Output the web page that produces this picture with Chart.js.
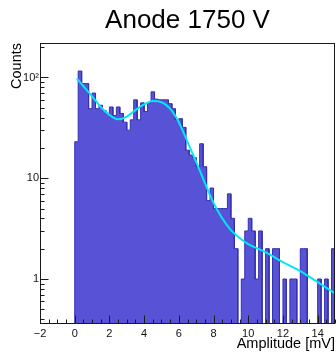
<!DOCTYPE html>
<html>
<head>
<meta charset="utf-8">
<title>Anode 1750 V</title>
<script src="https://cdn.jsdelivr.net/npm/chart.js@4/dist/chart.umd.min.js"></script>
<style>
  html, body { margin: 0; padding: 0; background: #ffffff; }
  canvas { display: block; }
</style>
</head>
<body>
<canvas id="chart" width="336" height="352"></canvas>
<script>
// Amplitude spectrum, 0.2 mV bins starting at 0 mV
const chartTitle = 'Anode 1750 V';
const xTitle = 'Amplitude [mV]';
const yTitle = 'Counts';

const binLow = 0;
const binWidth = 0.2;
const counts = [
  23, 116, 87, 87, 49, 70, 49, 53, 47, 44,
  51, 42, 51, 44, 36, 30, 38, 60, 38, 56,
  46, 56, 72, 61, 60, 60, 60, 55, 49, 38,
  39, 32, 19, 17, 16, 13, 22, 13, 6, 8,
  5, 5, 5, 5, 7, 4, 2, 0, 1, 3,
  4, 3, 1, 3, 0, 2, 0, 2, 2, 0,
  1, 0, 1, 1, 0, 2, 2, 0, 0, 0,
  1, 0, 1, 0, 2
];

// Fitted model curve
const fitX = [0.12, 0.5, 1.0, 1.5, 2.0, 2.5, 3.0, 3.5, 4.0, 4.5, 5.0, 5.5, 6.0, 6.5, 7.0, 7.5, 8.0, 8.5, 9.0, 9.5, 10, 11, 12, 13, 14, 15];
const fitY = [98, 82, 65, 51, 42.5, 38.5, 41, 47.5, 54, 58.5, 57, 49, 36, 23, 14.5, 9.0, 5.7, 4.0, 3.05, 2.55, 2.22, 1.85, 1.47, 1.2, 0.93, 0.72];

const xTicks = [-2, 0, 2, 4, 6, 8, 10, 12, 14];
const yTicks = [1, 10, 100];
const xRange = [-2, 15];
const yRange = [0.3575, 220];

// Step outline of the histogram: two corners per bin, closed down to the axis floor
const floorY = yRange[0];
const histPoints = [{ x: binLow, y: floorY }];
counts.forEach((c, i) => {
  const lo = binLow + i * binWidth;
  const hi = lo + binWidth;
  const h = Math.max(c, floorY);
  histPoints.push({ x: lo, y: h }, { x: hi, y: h });
});
histPoints.push({ x: binLow + counts.length * binWidth, y: floorY });

const fitPoints = fitX.map((v, i) => ({ x: v, y: fitY[i] }));

const fontFamily = '"Liberation Sans", Arial, Helvetica, sans-serif';
Chart.defaults.font.family = fontFamily;

// Frame, inward tick marks and the pad title
const frameAndTicks = {
  id: 'frameAndTicks',
  afterDatasetsDraw(chart) {
    const { ctx, chartArea: a, scales: { x, y } } = chart;
    ctx.save();
    ctx.strokeStyle = '#1a1a1a';
    ctx.lineWidth = 1;
    ctx.beginPath();
    const bottom = a.bottom - 0.5;
    const left = a.left + 0.5;
    for (let k = Math.ceil(xRange[0] / 0.5); k * 0.5 <= xRange[1]; k++) {
      const v = k * 0.5;
      const px = Math.round(x.getPixelForValue(v)) + 0.5;
      const len = (k % 4 === 0) ? 8 : 4;
      ctx.moveTo(px, bottom);
      ctx.lineTo(px, bottom - len);
    }
    for (let e = -1; e <= 2; e++) {
      for (let m = 1; m <= 9; m++) {
        const v = m * Math.pow(10, e);
        if (v < yRange[0] || v > yRange[1]) continue;
        const py = Math.round(y.getPixelForValue(v)) + 0.5;
        const len = m === 1 ? 8 : 4;
        ctx.moveTo(left, py);
        ctx.lineTo(left + len, py);
      }
    }
    ctx.stroke();
    ctx.strokeRect(a.left + 0.5, a.top + 0.5, a.right - a.left - 1, a.bottom - a.top - 1);
    ctx.restore();
  },
  afterDraw(chart) {
    const { ctx, chartArea: a } = chart;
    ctx.save();
    ctx.fillStyle = '#000000';
    ctx.font = '26px ' + fontFamily;
    ctx.textAlign = 'center';
    ctx.textBaseline = 'alphabetic';
    ctx.fillText(chartTitle, (a.left + a.right) / 2, 28);
    ctx.restore();
  }
};

new Chart(document.getElementById('chart'), {
  type: 'line',
  data: {
    datasets: [
      {
        label: 'fit',
        data: fitPoints,
        borderColor: 'rgb(0, 232, 250)',
        borderWidth: 2,
        pointRadius: 0,
        cubicInterpolationMode: 'monotone',
        fill: false,
        order: 0
      },
      {
        label: 'Amplitude',
        data: histPoints,
        borderColor: '#3631b0',
        backgroundColor: '#5752d6',
        borderWidth: 1,
        pointRadius: 0,
        tension: 0,
        fill: 'start',
        order: 1
      }
    ]
  },
  options: {
    responsive: false,
    animation: false,
    devicePixelRatio: 1,
    layout: { padding: { left: 0, right: 1, top: 43, bottom: 0 } },
    plugins: {
      legend: { display: false },
      tooltip: { enabled: false },
      title: { display: false }
    },
    scales: {
      x: {
        type: 'linear',
        min: xRange[0],
        max: xRange[1],
        grid: { display: false, drawTicks: false },
        border: { display: false },
        ticks: {
          autoSkip: false,
          maxRotation: 0,
          padding: 3,
          color: '#111111',
          font: { size: 11 },
          callback: v => (v < 0 ? '\u2212' + Math.abs(v) : String(v))
        },
        afterBuildTicks: s => { s.ticks = xTicks.map(v => ({ value: v })); },
        afterFit: s => { s.height = 28; },
        title: {
          display: true,
          text: xTitle,
          align: 'end',
          color: '#000000',
          font: { size: 14.5, lineHeight: 1 },
          padding: { top: 0, bottom: 1 }
        }
      },
      y: {
        type: 'logarithmic',
        min: yRange[0],
        max: yRange[1],
        grid: { display: false, drawTicks: false },
        border: { display: false },
        ticks: {
          autoSkip: false,
          padding: 1,
          color: '#111111',
          font: { size: 11 },
          callback: v => (v === 100 ? '10\u00B2' : String(v))
        },
        afterBuildTicks: s => { s.ticks = yTicks.map(v => ({ value: v })); },
        afterFit: s => { s.width = 40; },
        title: {
          display: true,
          text: yTitle,
          align: 'end',
          color: '#000000',
          font: { size: 14.5, lineHeight: 1 },
          padding: { top: 10, bottom: 0 }
        }
      }
    }
  },
  plugins: [frameAndTicks]
});
</script>
</body>
</html>
